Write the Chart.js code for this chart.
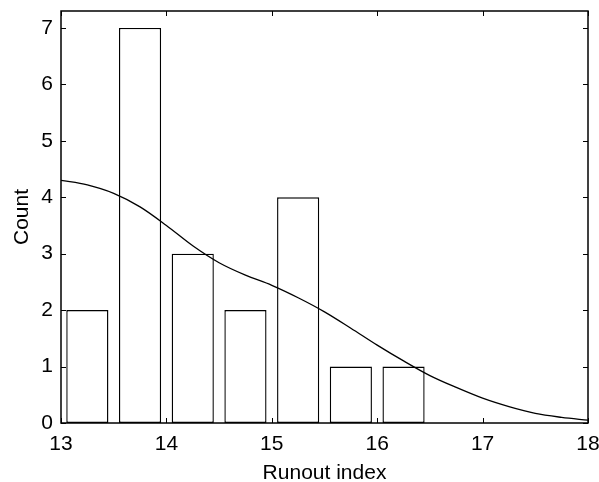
<!DOCTYPE html>
<html>
<head>
<meta charset="utf-8">
<script src="https://cdn.jsdelivr.net/npm/chart.js@4"></script>
<style>
  html, body { margin: 0; padding: 0; background: #fff; }
  #wrap { width: 599px; height: 482px; }
</style>
</head>
<body>
<div id="wrap"><canvas id="histChart" width="599" height="482"></canvas></div>
<script>
// bins of the histogram (centre of each bar) and counts
const binCenters = [13.25, 13.75, 14.25, 14.75, 15.25, 15.75, 16.25];
const counts = [2, 7, 3, 2, 4, 1, 1];

// smooth fitted curve
const curveX = [13.0, 13.25, 13.5, 13.75, 14.0, 14.25, 14.5, 14.75, 15.0, 15.25, 15.5, 15.75, 16.0, 16.25, 16.5, 16.75, 17.0, 17.25, 17.5, 17.75, 18.0];
const curveY = [4.30, 4.22, 4.07, 3.83, 3.50, 3.14, 2.84, 2.62, 2.44, 2.22, 1.97, 1.68, 1.38, 1.10, 0.84, 0.63, 0.44, 0.29, 0.17, 0.10, 0.05];

const xTicks = [13, 14, 15, 16, 17, 18];
const yTicks = [0, 1, 2, 3, 4, 5, 6, 7];

const fontFamily = '"Liberation Sans", Arial, sans-serif';

// cadre + petits ticks vers l'intérieur, façon matlab
const frameTicks = {
    id: 'frameTicks',
    afterDatasetsDraw(chart) {
        const ctx = chart.ctx;
        const area = chart.chartArea;
        const xs = chart.scales.x;
        const ys = chart.scales.y;
        const len = 5;
        ctx.save();
        ctx.strokeStyle = '#000';
        ctx.lineWidth = 1;
        ctx.beginPath();
        xTicks.forEach(v => {
            const px = Math.round(xs.getPixelForValue(v)) + 0.5;
            ctx.moveTo(px, area.bottom);
            ctx.lineTo(px, area.bottom - len);
            ctx.moveTo(px, area.top);
            ctx.lineTo(px, area.top + len);
        });
        yTicks.forEach(v => {
            const py = Math.round(ys.getPixelForValue(v)) + 0.5;
            ctx.moveTo(area.left, py);
            ctx.lineTo(area.left + len, py);
            ctx.moveTo(area.right, py);
            ctx.lineTo(area.right - len, py);
        });
        ctx.stroke();
        ctx.lineWidth = 1.5;
        ctx.strokeRect(area.left, area.top, area.right - area.left, area.bottom - area.top);
        ctx.restore();
    }
};

// on enlève le padding automatique des labels pour fixer la zone du graphe
function noLabelPadding(scale) {
    scale.paddingLeft = 0;
    scale.paddingRight = 0;
    scale.paddingTop = 0;
    scale.paddingBottom = 0;
}

const histChart = new Chart(document.getElementById('histChart').getContext('2d'), {
    type: 'bar',
    data: {
        datasets: [
            {
                type: 'line',
                data: curveX.map((x, i) => ({ x: x, y: curveY[i] })),
                borderColor: '#000',
                borderWidth: 1.3,
                pointRadius: 0,
                cubicInterpolationMode: 'monotone',
                fill: false,
                order: 0
            },
            {
                type: 'bar',
                data: binCenters.map((x, i) => ({ x: x, y: counts[i] })),
                backgroundColor: '#fff',
                borderColor: '#000',
                borderWidth: 1.4,
                borderSkipped: false,
                barPercentage: 0.8,
                categoryPercentage: 1.0,
                order: 1
            }
        ]
    },
    options: {
        responsive: false,
        animation: false,
        layout: { padding: { top: 11, right: 11, left: 0, bottom: 0 } },
        plugins: {
            legend: { display: false },
            tooltip: { enabled: false }
        },
        scales: {
            x: {
                type: 'linear',
                min: 13,
                max: 18,
                offset: false,
                grid: { display: false, drawTicks: false },
                border: { display: false },
                afterBuildTicks: scale => { scale.ticks = xTicks.map(v => ({ value: v })); },
                afterFit: scale => { scale.height = 59; noLabelPadding(scale); },
                ticks: {
                    color: '#000',
                    padding: 9,
                    maxRotation: 0,
                    font: { family: fontFamily, size: 21 }
                },
                title: {
                    display: true,
                    text: 'Runout index',
                    color: '#000',
                    padding: { top: 0, bottom: -2 },
                    font: { family: fontFamily, size: 21, lineHeight: 1 }
                }
            },
            y: {
                min: 0,
                max: 7.3,
                grid: { display: false, drawTicks: false },
                border: { display: false },
                afterBuildTicks: scale => { scale.ticks = yTicks.map(v => ({ value: v })); },
                afterFit: scale => { scale.width = 61; noLabelPadding(scale); },
                ticks: {
                    color: '#000',
                    padding: 8,
                    font: { family: fontFamily, size: 21 }
                },
                title: {
                    display: true,
                    text: 'Count',
                    color: '#000',
                    padding: { top: 12, bottom: 0 },
                    font: { family: fontFamily, size: 21, lineHeight: 1 }
                }
            }
        }
    },
    plugins: [frameTicks]
});
</script>
</body>
</html>
